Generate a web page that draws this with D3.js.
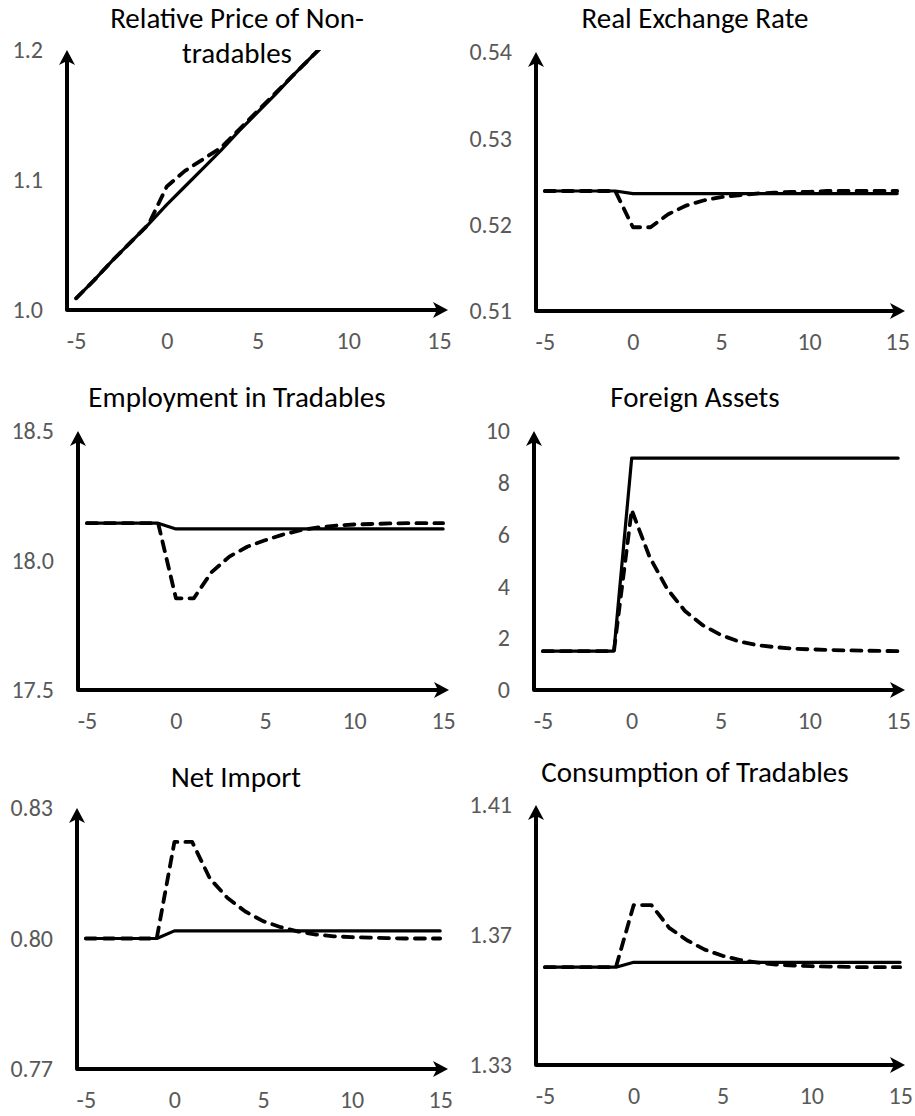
<!DOCTYPE html>
<html>
<head>
<meta charset="utf-8">
<script src="https://cdn.jsdelivr.net/npm/d3@7"></script>
<style>
  html, body { margin: 0; padding: 0; background: #fff; }
  svg { display: block; }
  text { font-family: Calibri, Carlito, Lato, "Open Sans", sans-serif; }
</style>
</head>
<body>
<svg id="chart" width="915" height="1116"></svg>
<script>
// Periods relative to the shock (t = 0)
const periods = [-5, -4, -3, -2, -1, 0, 1, 2, 3, 4, 5, 6, 7, 8, 9, 10, 11, 12, 13, 14, 15];
const xTickValues = [-5, 0, 5, 10, 15];

// Relative price of non-tradables
const relPriceBase = [1.009, 1.023, 1.038, 1.052, 1.066, 1.081, 1.095, 1.109, 1.123, 1.138, 1.152,
                      1.166, 1.181, 1.195, 1.209, 1.224, 1.238, 1.252, 1.266, 1.281, 1.295];
const relPriceAlt  = [1.009, 1.023, 1.038, 1.052, 1.066, 1.095, 1.107, 1.116, 1.125, 1.139, 1.153,
                      1.167, 1.181, 1.195, 1.209, 1.224, 1.238, 1.252, 1.266, 1.281, 1.295];
const relPriceTicks = [1.0, 1.1, 1.2];

// Real exchange rate
const rerBase = [0.5239, 0.5239, 0.5239, 0.5239, 0.5239, 0.5236, 0.5236, 0.5236, 0.5236, 0.5236, 0.5236,
                 0.5236, 0.5236, 0.5236, 0.5236, 0.5236, 0.5236, 0.5236, 0.5236, 0.5236, 0.5236];
const rerAlt  = [0.5239, 0.5239, 0.5239, 0.5239, 0.5239, 0.5197, 0.5197, 0.5212, 0.5222, 0.5228, 0.5232,
                 0.5234, 0.5236, 0.5237, 0.5238, 0.5238, 0.5239, 0.5239, 0.5239, 0.5239, 0.5239];
const rerTicks = [0.51, 0.52, 0.53, 0.54];

// Employment in tradables
const empBase = [18.144, 18.144, 18.144, 18.144, 18.144, 18.122, 18.122, 18.122, 18.122, 18.122, 18.122,
                 18.122, 18.122, 18.122, 18.122, 18.122, 18.122, 18.122, 18.122, 18.122, 18.122];
const empAlt  = [18.144, 18.144, 18.144, 18.144, 18.144, 17.854, 17.854, 17.955, 18.015, 18.053, 18.078,
                 18.100, 18.117, 18.128, 18.135, 18.139, 18.141, 18.143, 18.144, 18.144, 18.144];
const empTicks = [17.5, 18.0, 18.5];

// Foreign assets
const assetsBase = [1.5, 1.5, 1.5, 1.5, 1.5, 8.95, 8.95, 8.95, 8.95, 8.95, 8.95,
                    8.95, 8.95, 8.95, 8.95, 8.95, 8.95, 8.95, 8.95, 8.95, 8.95];
const assetsAlt  = [1.5, 1.5, 1.5, 1.5, 1.5, 6.95, 5.15, 3.90, 3.05, 2.50, 2.13,
                    1.88, 1.74, 1.66, 1.60, 1.57, 1.55, 1.53, 1.52, 1.51, 1.50];
const assetsTicks = [0, 2, 4, 6, 8, 10];

// Net import
const importBase = [0.8000, 0.8000, 0.8000, 0.8000, 0.8000, 0.80175, 0.80175, 0.80175, 0.80175, 0.80175, 0.80175,
                    0.80175, 0.80175, 0.80175, 0.80175, 0.80175, 0.80175, 0.80175, 0.80175, 0.80175, 0.80175];
const importAlt  = [0.8000, 0.8000, 0.8000, 0.8000, 0.8000, 0.8222, 0.8222, 0.8138, 0.8093, 0.8062, 0.8040,
                    0.8026, 0.8016, 0.8009, 0.8005, 0.8003, 0.8002, 0.8001, 0.8000, 0.8000, 0.8000];
const importTicks = [0.77, 0.80, 0.83];

// Consumption of tradables
const consBase = [1.3601, 1.3601, 1.3601, 1.3601, 1.3601, 1.3616, 1.3616, 1.3616, 1.3616, 1.3616, 1.3616,
                  1.3616, 1.3616, 1.3616, 1.3616, 1.3616, 1.3616, 1.3616, 1.3616, 1.3616, 1.3616];
const consAlt  = [1.3601, 1.3601, 1.3601, 1.3601, 1.3601, 1.3792, 1.3792, 1.3722, 1.3684, 1.3655, 1.3636,
                  1.3623, 1.3615, 1.3609, 1.3606, 1.3604, 1.3603, 1.3602, 1.3601, 1.3601, 1.3601];
const consTicks = [1.33, 1.37, 1.41];

// Panel definitions: content plus placement on the page
const panels = [
  { title: ["Relative Price of Non-", "tradables"], base: relPriceBase, alt: relPriceAlt,
    ticks: relPriceTicks, fmt: ".1f", domain: [1.0, 1.2],
    box: { left: 67, right: 448, top: 50, bottom: 310, arrowX: 448, titleX: 237, titleY: 28 } },
  { title: ["Real Exchange Rate"], base: rerBase, alt: rerAlt,
    ticks: rerTicks, fmt: ".2f", domain: [0.51, 0.54],
    box: { left: 536, right: 906, top: 52, bottom: 311, arrowX: 905, titleX: 695, titleY: 28 } },
  { title: ["Employment in Tradables"], base: empBase, alt: empAlt,
    ticks: empTicks, fmt: ".1f", domain: [17.5, 18.5],
    box: { left: 78, right: 452, top: 431, bottom: 690, arrowX: 449, titleX: 237, titleY: 407 } },
  { title: ["Foreign Assets"], base: assetsBase, alt: assetsAlt,
    ticks: assetsTicks, fmt: "d", domain: [0, 10],
    box: { left: 534, right: 907, top: 431, bottom: 690, arrowX: 905, titleX: 695, titleY: 407 } },
  { title: ["Net Import"], base: importBase, alt: importAlt,
    ticks: importTicks, fmt: ".2f", domain: [0.77, 0.83],
    box: { left: 77, right: 449, top: 808, bottom: 1069, arrowX: 448, titleX: 236, titleY: 787 } },
  { title: ["Consumption of Tradables"], base: consBase, alt: consAlt,
    ticks: consTicks, fmt: ".2f", domain: [1.33, 1.41],
    box: { left: 536, right: 909, top: 805, bottom: 1065, arrowX: 905, titleX: 695, titleY: 782 } }
];

const FONT = "Calibri, Carlito, Lato, 'Open Sans', sans-serif";
const svg = d3.select("#chart");
const defs = svg.append("defs");

// Filled arrowhead with a notched back, pointing along (dx, dy)
function arrowHead(g, tipX, tipY, dx, dy) {
  const len = 15, half = 8, notch = 11;
  const px = -dy, py = dx;
  const bx = tipX - dx * len, by = tipY - dy * len;
  const nx = tipX - dx * notch, ny = tipY - dy * notch;
  g.append("path")
    .attr("d", `M${tipX},${tipY} L${bx + px * half},${by + py * half} L${nx},${ny} L${bx - px * half},${by - py * half} Z`)
    .attr("fill", "#000");
}

panels.forEach((p, i) => {
  const b = p.box;
  const x = d3.scaleLinear().domain([-5.5, 15.5]).range([b.left, b.right]);
  const y = d3.scaleLinear().domain(p.domain).range([b.bottom, b.top]);
  const g = svg.append("g");

  // Title
  const title = g.append("text")
    .attr("x", b.titleX).attr("y", b.titleY)
    .attr("text-anchor", "middle")
    .attr("font-size", 29)
    .attr("fill", "#000");
  p.title.forEach((line, k) => {
    title.append("tspan").attr("x", b.titleX).attr("dy", k === 0 ? 0 : 35).text(line);
  });

  // Y tick labels
  const yAxis = d3.axisLeft(y).tickValues(p.ticks).tickFormat(d3.format(p.fmt)).tickSize(0).tickPadding(24);
  const ya = g.append("g").attr("transform", `translate(${b.left},0)`).call(yAxis);
  ya.select(".domain").remove();
  ya.selectAll("text").attr("font-size", 24).attr("fill", "#595959").attr("font-family", FONT);

  // X tick labels (plain hyphen for negatives)
  const xAxis = d3.axisBottom(x).tickValues(xTickValues).tickFormat(d => String(d)).tickSize(0).tickPadding(22);
  const xa = g.append("g").attr("transform", `translate(0,${b.bottom})`).call(xAxis);
  xa.select(".domain").remove();
  xa.selectAll("text").attr("font-size", 24).attr("fill", "#595959").attr("font-family", FONT);

  // Clip series to the plotting area
  const clipId = "clip" + i;
  defs.append("clipPath").attr("id", clipId)
    .append("rect").attr("x", b.left).attr("y", b.top)
    .attr("width", b.right - b.left).attr("height", b.bottom - b.top);

  const line = d3.line().x((d, j) => x(periods[j])).y(d => y(d));
  const series = g.append("g").attr("clip-path", `url(#${clipId})`);

  series.append("path").datum(p.base)
    .attr("d", line)
    .attr("fill", "none").attr("stroke", "#000")
    .attr("stroke-width", 3.2).attr("stroke-linejoin", "round").attr("stroke-linecap", "round");

  series.append("path").datum(p.alt)
    .attr("d", line)
    .attr("fill", "none").attr("stroke", "#000")
    .attr("stroke-width", 3.8).attr("stroke-linejoin", "round").attr("stroke-linecap", "round")
    .attr("stroke-dasharray", "10,8");

  // Axis lines with arrowheads
  g.append("path")
    .attr("d", `M${b.left},${b.top + 10} L${b.left},${b.bottom} L${b.arrowX - 10},${b.bottom}`)
    .attr("fill", "none").attr("stroke", "#000")
    .attr("stroke-width", 4).attr("stroke-linejoin", "round");
  arrowHead(g, b.left, b.top, 0, -1);
  arrowHead(g, b.arrowX, b.bottom, 1, 0);
});
</script>
</body>
</html>
